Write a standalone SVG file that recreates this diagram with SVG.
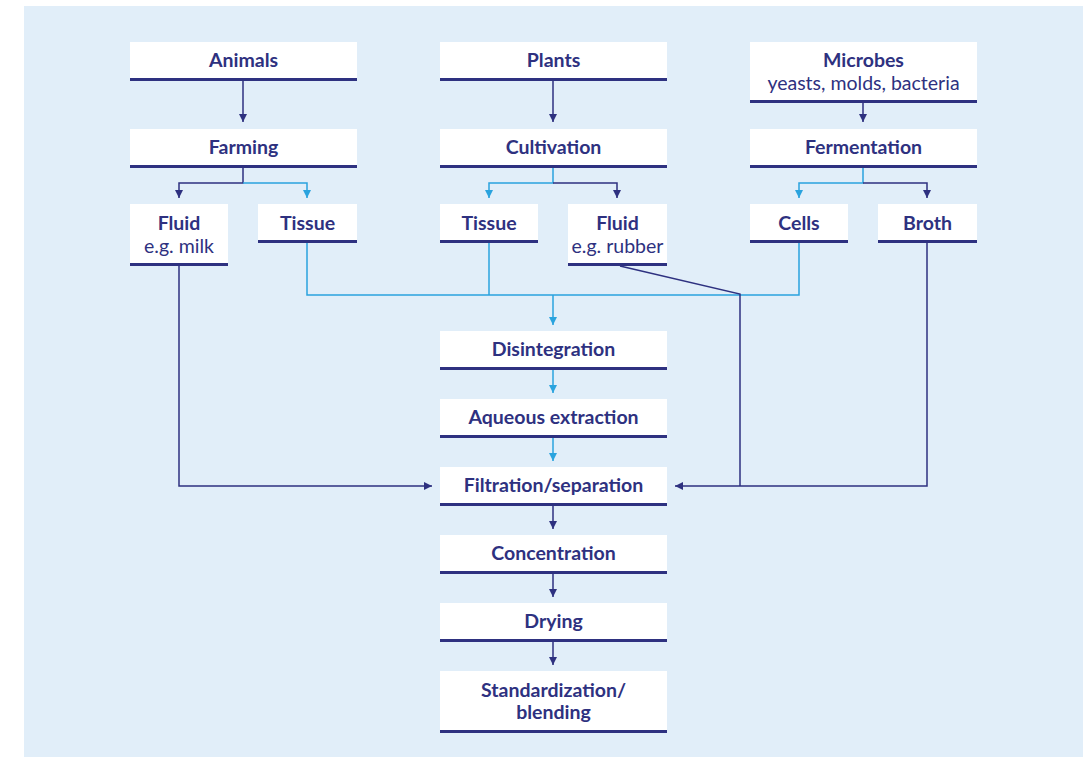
<svg xmlns="http://www.w3.org/2000/svg" width="1088" height="757" viewBox="0 0 1088 757">
<defs>
<style>
.box{fill:#ffffff}
.bar{fill:#2E3180}
.t{font-family:Lato,"Liberation Sans",sans-serif;font-weight:700;font-size:19.5px;fill:#2E3180;text-anchor:middle}
.s{font-family:Lato,"Liberation Sans",sans-serif;font-weight:400;font-size:19.5px;fill:#2E3180;text-anchor:middle}
.d{fill:none;stroke:#2E3180;stroke-width:1.5}
.l{fill:none;stroke:#2AA3DE;stroke-width:1.5}
</style>
<marker id="ad" viewBox="0 0 10 10" refX="10" refY="5" markerWidth="8" markerHeight="8" markerUnits="userSpaceOnUse" orient="auto"><path d="M0,0 L10,5 L0,10 z" fill="#2E3180"/></marker>
<marker id="al" viewBox="0 0 10 10" refX="10" refY="5" markerWidth="8" markerHeight="8" markerUnits="userSpaceOnUse" orient="auto"><path d="M0,0 L10,5 L0,10 z" fill="#2AA3DE"/></marker>
</defs>
<rect x="24" y="6" width="1059" height="751" fill="#E1EEF9"/>

<g id="connectors">
<path class="d" d="M243,81 V122" marker-end="url(#ad)"/>
<path class="d" d="M553,81 V122" marker-end="url(#ad)"/>
<path class="d" d="M863,103 V122" marker-end="url(#ad)"/>
<path class="d" d="M243,168 V183 H179 V198" marker-end="url(#ad)"/>
<path class="l" d="M243,183 H307 V198" marker-end="url(#al)"/>
<path class="l" d="M553,168 V183 H489 V198" marker-end="url(#al)"/>
<path class="d" d="M553,183 H617 V198" marker-end="url(#ad)"/>
<path class="l" d="M863,168 V183 H799 V198" marker-end="url(#al)"/>
<path class="d" d="M863,183 H927 V198" marker-end="url(#ad)"/>
<path class="l" d="M307,243 V295 H799 V243"/>
<path class="l" d="M489,243 V295"/>
<path class="l" d="M553,295 V325" marker-end="url(#al)"/>
<path class="d" d="M620,266 L740,294 V486"/>
<path class="d" d="M927,243 V486 H675" marker-end="url(#ad)"/>
<path class="d" d="M179,266 V486 H432" marker-end="url(#ad)"/>
<path class="l" d="M553,370 V393" marker-end="url(#al)"/>
<path class="l" d="M553,438 V461" marker-end="url(#al)"/>
<path class="d" d="M553,506 V529" marker-end="url(#ad)"/>
<path class="d" d="M553,574 V597" marker-end="url(#ad)"/>
<path class="d" d="M553,642 V665" marker-end="url(#ad)"/>
</g>

<g id="animals"><rect class="box" x="130" y="42" width="227" height="36"/><rect class="bar" x="130" y="78" width="227" height="3"/><text class="t" x="243.5" y="67">Animals</text></g>
<g id="plants"><rect class="box" x="440" y="42" width="227" height="36"/><rect class="bar" x="440" y="78" width="227" height="3"/><text class="t" x="553.5" y="67">Plants</text></g>
<g id="microbes"><rect class="box" x="750" y="42" width="227" height="58"/><rect class="bar" x="750" y="100" width="227" height="3"/><text class="t" x="863.5" y="67">Microbes</text><text class="s" x="863.5" y="90">yeasts, molds, bacteria</text></g>

<g id="farming"><rect class="box" x="130" y="129" width="227" height="36"/><rect class="bar" x="130" y="165" width="227" height="3"/><text class="t" x="243.5" y="154">Farming</text></g>
<g id="cultivation"><rect class="box" x="440" y="129" width="227" height="36"/><rect class="bar" x="440" y="165" width="227" height="3"/><text class="t" x="553.5" y="154">Cultivation</text></g>
<g id="fermentation"><rect class="box" x="750" y="129" width="227" height="36"/><rect class="bar" x="750" y="165" width="227" height="3"/><text class="t" x="863.5" y="154">Fermentation</text></g>

<g id="fluid-milk"><rect class="box" x="130" y="204" width="98" height="59"/><rect class="bar" x="130" y="263" width="98" height="3"/><text class="t" x="179" y="230">Fluid</text><text class="s" x="179" y="253">e.g. milk</text></g>
<g id="tissue-animal"><rect class="box" x="258" y="204" width="99" height="36"/><rect class="bar" x="258" y="240" width="99" height="3"/><text class="t" x="307.5" y="230">Tissue</text></g>
<g id="tissue-plant"><rect class="box" x="440" y="204" width="98" height="36"/><rect class="bar" x="440" y="240" width="98" height="3"/><text class="t" x="489" y="230">Tissue</text></g>
<g id="fluid-rubber"><rect class="box" x="568" y="204" width="99" height="59"/><rect class="bar" x="568" y="263" width="99" height="3"/><text class="t" x="617.5" y="230">Fluid</text><text class="s" x="617.5" y="253">e.g. rubber</text></g>
<g id="cells"><rect class="box" x="750" y="204" width="98" height="36"/><rect class="bar" x="750" y="240" width="98" height="3"/><text class="t" x="799" y="230">Cells</text></g>
<g id="broth"><rect class="box" x="878" y="204" width="99" height="36"/><rect class="bar" x="878" y="240" width="99" height="3"/><text class="t" x="927.5" y="230">Broth</text></g>

<g id="disintegration"><rect class="box" x="440" y="331" width="227" height="36"/><rect class="bar" x="440" y="367" width="227" height="3"/><text class="t" x="553.5" y="356">Disintegration</text></g>
<g id="aqueous"><rect class="box" x="440" y="399" width="227" height="36"/><rect class="bar" x="440" y="435" width="227" height="3"/><text class="t" x="553.5" y="424">Aqueous extraction</text></g>
<g id="filtration"><rect class="box" x="440" y="467" width="227" height="36"/><rect class="bar" x="440" y="503" width="227" height="3"/><text class="t" x="553.5" y="492">Filtration/separation</text></g>
<g id="concentration"><rect class="box" x="440" y="535" width="227" height="36"/><rect class="bar" x="440" y="571" width="227" height="3"/><text class="t" x="553.5" y="560">Concentration</text></g>
<g id="drying"><rect class="box" x="440" y="603" width="227" height="36"/><rect class="bar" x="440" y="639" width="227" height="3"/><text class="t" x="553.5" y="628">Drying</text></g>
<g id="standardization"><rect class="box" x="440" y="671" width="227" height="59"/><rect class="bar" x="440" y="730" width="227" height="3"/><text class="t" x="553.5" y="697">Standardization/</text><text class="t" x="553.5" y="719">blending</text></g>
</svg>
